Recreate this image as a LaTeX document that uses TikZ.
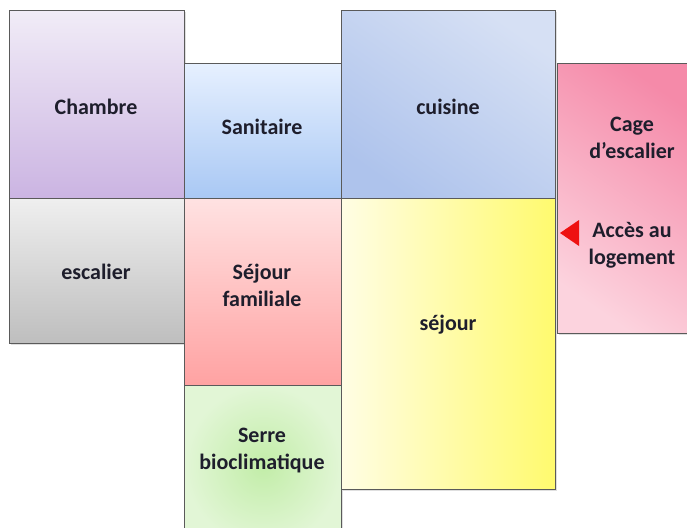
\documentclass[tikz,border=0pt]{standalone}
\usepackage{fontspec}
\setmainfont{Carlito}
\usetikzlibrary{shadows}

\definecolor{edge}{HTML}{5A5A5A}
\definecolor{ink}{HTML}{1E1E2C}
\definecolor{lavTop}{HTML}{F1ECF7}
\definecolor{lavBot}{HTML}{CBB4E2}
\definecolor{sanTop}{HTML}{E6F0FF}
\definecolor{sanBot}{HTML}{A9C8F4}
\definecolor{cuiDark}{HTML}{AEC3EC}
\definecolor{cuiLight}{HTML}{D6E0F4}
\definecolor{cageDark}{HTML}{F58AA9}
\definecolor{cageLight}{HTML}{FCD3DE}
\definecolor{escTop}{HTML}{EFEFEF}
\definecolor{escBot}{HTML}{BEBEBE}
\definecolor{famTop}{HTML}{FFE2E2}
\definecolor{famBot}{HTML}{FFA2A2}
\definecolor{serIn}{HTML}{C2EDA8}
\definecolor{serOut}{HTML}{E2F6D6}
\definecolor{sejLeft}{HTML}{FFFDE4}
\definecolor{sejRight}{HTML}{FFFA6E}
\definecolor{entry}{HTML}{EE1111}

\tikzset{
  room/.style={draw=edge, line width=1.1pt, anchor=north west, inner sep=0pt,
    drop shadow={shadow xshift=1.5pt, shadow yshift=-1.5pt, opacity=0.25}},
  label/.style={text=ink, align=center, inner sep=0pt,
    font=\bfseries\fontsize{22}{27}\selectfont},
  entrymark/.style={fill=entry, draw=none},
}

\begin{document}
\begin{tikzpicture}[x=1pt, y=-1pt]
  \useasboundingbox (0,0) rectangle (687,527);
  \clip (0,0) rectangle (687,527);

  % upper row
  \node[room, minimum width=175pt, minimum height=188pt,
        top color=lavTop, bottom color=lavBot] (chambre) at (9,10) {};
  \node[room, minimum width=157pt, minimum height=135pt,
        top color=sanTop, bottom color=sanBot] (sanitaire) at (184,63) {};
  \node[room, minimum width=214pt, minimum height=188pt,
        top color=cuiLight, bottom color=cuiDark, shading angle=-35] (cuisine) at (341,10) {};
  \node[room, minimum width=140pt, minimum height=270pt,
        top color=cageDark, bottom color=cageLight, shading angle=-35] (cage) at (557,63) {};

  % lower rows
  \node[room, minimum width=175pt, minimum height=145pt,
        top color=escTop, bottom color=escBot] (escalier) at (9,198) {};
  \node[room, minimum width=157pt, minimum height=187pt,
        top color=famTop, bottom color=famBot] (familiale) at (184,198) {};
  \node[room, minimum width=157pt, minimum height=160pt,
        inner color=serIn, outer color=serOut] (serre) at (184,385) {};
  \node[room, minimum width=214pt, minimum height=291pt,
        left color=sejLeft, right color=sejRight] (sejour) at (341,198) {};

  % room names
  \node[label] (tChambre) at (96,107) {Chambre};
  \node[label] (tSanitaire) at (262,127) {Sanitaire};
  \node[label] (tCuisine) at (448,107) {cuisine};
  \node[label] (tCage) at (632,138) {Cage\\d’escalier};
  \node[label] (tAcces) at (632,245) {Accès au\\logement};
  \node[label] (tEscalier) at (96,272) {escalier};
  \node[label] (tFamiliale) at (262,285) {Séjour\\familiale};
  \node[label] (tSejour) at (448,325) {séjour};
  \node[label] (tSerre) at (262,451) {Serre\\bioclimatique};

  % entrance marker
  \coordinate (tip) at (560,233);
  \fill[entrymark] (tip) -- ++(19,-13) -- ++(0,26) -- cycle;
\end{tikzpicture}
\end{document}
